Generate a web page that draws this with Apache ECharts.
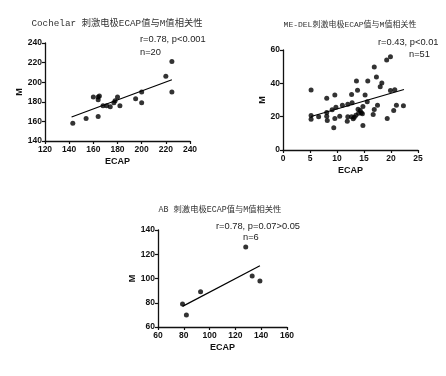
<!DOCTYPE html>
<html>
<head>
<meta charset="utf-8">
<script src="https://cdn.jsdelivr.net/npm/echarts@6/dist/echarts.min.js"></script>
<style>
html,body{margin:0;padding:0;background:#fff;}
#main{width:446px;height:376px;}
</style>
</head>
<body>
<div id="main"></div>
<script>
// Cochelar
var cochX = [143, 154, 160, 164, 164, 165, 164, 168, 171, 174, 177, 178, 180, 182, 195, 200, 200, 220, 225, 225];
var cochY = [158, 163, 185, 185, 182, 186, 165, 176, 176, 175, 179, 181, 185, 176, 183, 190, 179, 206, 221, 190];
var cochFitX = [142, 225];
var cochFitY = [164.5, 202.5];
// ME-DEL
var medX = [5.2, 5.2, 5.2, 6.6, 8.1, 8.1, 8.1, 8.2, 9.1, 9.6, 9.6, 9.4, 9.8, 10.5, 11, 11.9, 12, 12, 12.7, 12.7,
	12.8, 13, 13.2, 13.5, 13.6, 13.8, 14, 14.3, 14.5, 14.7, 14.8, 14.8, 15.2, 15.6, 15.7, 16.7, 16.9, 16.9, 17.3, 17.5,
	18, 18.3, 19.2, 19.3, 19.9, 19.9, 20.7, 20.5, 21, 22.3, 13.9];
var medY = [36, 20.7, 18.5, 19.9, 31, 22.5, 20.3, 17.7, 24.1, 33, 18.9, 13.3, 25.7, 20.3, 26.9, 17.3, 19.9, 27.5, 19.9, 33.3,
	28.3, 18.7, 19.7, 20.9, 41.4, 35.9, 22.1, 23.7, 22.3, 21.7, 26.1, 14.7, 33, 28.9, 41.4, 21.3, 49.8, 24.3, 43.8, 26.9,
	38, 40.2, 54, 18.9, 56, 35.7, 36.1, 23.7, 26.9, 26.5, 24.5];
var medFitX = [5.2, 22.4];
var medFitY = [20.1, 36.3];
// AB
var abX = [79, 82, 93, 128, 133, 139];
var abY = [79, 70, 89, 126, 102, 98];
var abFitX = [79, 139];
var abFitY = [77, 110.5];

var titles = ['Cochelar 刺激电极ECAP值与M值相关性', 'ME-DEL刺激电极ECAP值与M值相关性', 'AB 刺激电极ECAP值与M值相关性'];
var notes = [['r=0.78, p<0.001', 'n=20'], ['r=0.43, p<0.01', 'n=51'], ['r=0.78, p=0.07>0.05', 'n=6']];

function pairs(xs, ys){
	var out = [];
	for (var i = 0; i < xs.length; i++) out.push([xs[i], ys[i]]);
	return out;
}

var titleFont = "'Liberation Mono','Noto Sans CJK SC',monospace";
var lab = {color:'#111', fontSize:8.5, fontWeight:'bold', fontFamily:'Liberation Sans, Arial'};
var nameStyle = {color:'#111', fontSize:9, fontWeight:'bold', fontFamily:'Liberation Sans, Arial'};
var axLine = {show:true, lineStyle:{color:'#111', width:1.3}};
var axTick = {show:true, inside:false, length:3, lineStyle:{color:'#111', width:1.2}};

function xAx(g, min, max, step){
	return {type:'value', gridIndex:g, min:min, max:max, interval:step, name:'ECAP', nameLocation:'middle', nameGap:16,
		nameTextStyle:nameStyle, axisLine:axLine, axisTick:axTick, axisLabel:Object.assign({margin:4}, lab), splitLine:{show:false}};
}
function yAx(g, min, max, step, gap){
	return {type:'value', gridIndex:g, min:min, max:max, interval:step, name:'M', nameLocation:'middle', nameGap:gap, nameRotate:90,
		nameTextStyle:nameStyle, axisLine:axLine, axisTick:axTick, axisLabel:Object.assign({margin:3}, lab), splitLine:{show:false}};
}
function dots(g, xs, ys){
	return {type:'scatter', xAxisIndex:g, yAxisIndex:g, symbolSize:5, itemStyle:{color:'#000'}, data:pairs(xs, ys), silent:true};
}
function fit(g, xs, ys){
	return {type:'line', xAxisIndex:g, yAxisIndex:g, showSymbol:false, symbol:'none', lineStyle:{color:'#000', width:1.2}, data:pairs(xs, ys), silent:true};
}
function note(txt, left, top){
	return {text:txt, left:left, top:top, padding:0, textStyle:{fontSize:9.3, fontWeight:'normal', color:'#222', fontFamily:'Liberation Sans, Arial'}};
}
function head(txt, left, top, size){
	return {text:txt, left:left, top:top, padding:0, textAlign:'center', textStyle:{fontSize:size, fontWeight:'normal', color:'#333', fontFamily:titleFont}};
}

var myChart = echarts.init(document.getElementById('main'));
var option = {
	backgroundColor:'#fff',
	animation:false,
	title:[
		head(titles[0], 117, 18.5, 9.3),
		head(titles[1], 350, 21, 8),
		head(titles[2], 220, 206, 8.3),
		note(notes[0][0], 140, 34.5), note(notes[0][1], 140, 47.5),
		note(notes[1][0], 378, 37.5), note(notes[1][1], 409, 49.5),
		note(notes[2][0], 216, 221.5), note(notes[2][1], 243, 232.5)
	],
	grid:[
		{left:45, top:43, width:145, height:98},
		{left:283, top:50, width:135, height:100},
		{left:158, top:230, width:129, height:97}
	],
	xAxis:[xAx(0, 120, 240, 20), xAx(1, 0, 25, 5), xAx(2, 60, 160, 20)],
	yAxis:[yAx(0, 140, 240, 20, 19), yAx(1, 0, 60, 20, 12), yAx(2, 60, 140, 20, 16)],
	series:[
		dots(0, cochX, cochY), fit(0, cochFitX, cochFitY),
		dots(1, medX, medY), fit(1, medFitX, medFitY),
		dots(2, abX, abY), fit(2, abFitX, abFitY)
	]
};
myChart.setOption(option);
</script>
</body>
</html>
